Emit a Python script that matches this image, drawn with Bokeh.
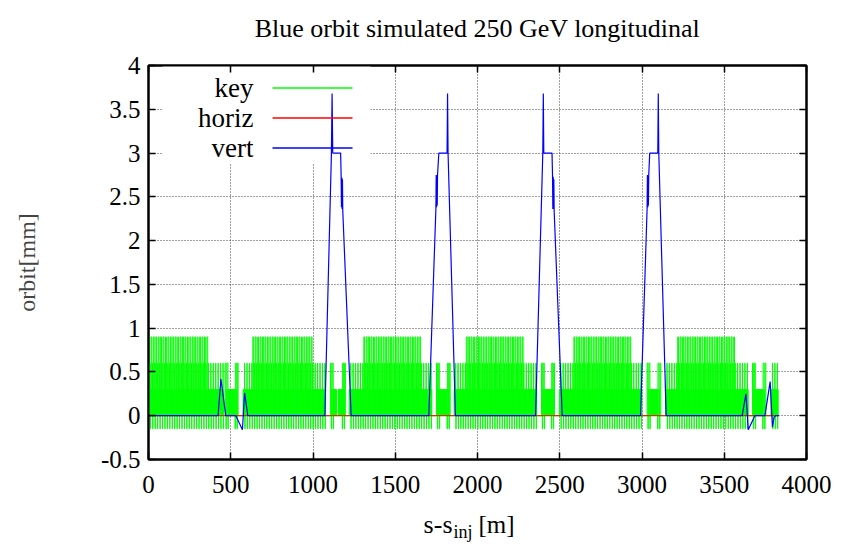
from bokeh.plotting import figure
from bokeh.layouts import column
from bokeh.models import (Range1d, LinearAxis, FixedTicker, Label, BoxAnnotation,
                          CustomJSTickFormatter)
from bokeh.embed import file_html
from bokeh.resources import INLINE

FONT = "Liberation Serif"

# ---------------- data ----------------
title_text = "Blue orbit simulated 250 GeV longitudinal"
y_title = "orbit[mm]"
x_title_parts = ["s-s", "inj", "[m]"]
series_names = ["key", "horiz", "vert"]
series_colors = ["#00ff00", "#ff0000", "#0000ff"]

x_ticks = [0, 500, 1000, 1500, 2000, 2500, 3000, 3500, 4000]
x_tick_labels = ["0", "500", "1000", "1500", "2000", "2500", "3000", "3500", "4000"]
y_ticks = [-0.5, 0, 0.5, 1, 1.5, 2, 2.5, 3, 3.5, 4]
y_tick_labels = ["-0.5", "0", "0.5", "1", "1.5", "2", "2.5", "3", "3.5", "4"]

# horizontal orbit (flat)
horiz_s = [0, 3832]
horiz_mm = [0, 0]

# vertical orbit
vert_s = [0, 423, 440, 470, 531, 571, 584, 604,
          1072, 1112, 1116, 1120, 1168, 1171, 1173, 1175, 1177, 1179, 1181, 1232,
          1704, 1747, 1749, 1751, 1753, 1755, 1757, 1765, 1815, 1818, 1821, 1866,
          2353, 2397, 2400, 2403, 2453, 2456, 2458, 2460, 2462, 2464, 2466, 2515,
          2991, 3031, 3033, 3035, 3037, 3039, 3041, 3047, 3096, 3099, 3102, 3147,
          3609, 3632, 3646, 3686, 3747, 3779, 3793, 3803, 3812, 3832]
vert_mm = [0, 0, 0.42, 0, 0, -0.16, 0.26, 0,
           0, 3.0, 3.68, 3.0, 3.0, 2.75, 2.38, 2.72, 2.36, 2.70, 2.34, 0,
           0, 2.36, 2.75, 2.38, 2.74, 2.40, 2.75, 3.0, 3.0, 3.68, 3.0, 0,
           0, 3.0, 3.68, 3.0, 3.0, 2.75, 2.36, 2.73, 2.36, 2.70, 2.34, 0,
           0, 2.36, 2.75, 2.38, 2.74, 2.40, 2.75, 3.0, 3.0, 3.68, 3.0, 0,
           0, 0.25, -0.16, 0, 0, 0.39, -0.13, -0.02, 0, 0]

# lattice key: arcs (quadrupole envelope) and their bending sections [m]
arc_start = [0, 575, 1220, 1858, 2497, 3143, 3784]
arc_end = [450, 1076, 1716, 2359, 2997, 3635, 3828]
bend_start = [5, 632, 1301, 1927, 2582, 3210, 3900]
bend_end = [369, 997, 1654, 2281, 2932, 3560, 3900]
half_cell = 14.8
# elements of one arc half-cell: offset [m], length [m], key level
cell_off = [0.0, 6.5, 8.5, 11.0, 12.6]
cell_len = [5.0, 0.8, 1.1, 0.6, 0.8]
cell_lvl = [0.9, 0.3, 0.6, -0.15, 0.3]
dipole_level_outside_bend = 0.3
# insertion triplets: start of the first, end of the second [m]
trip_a_start = [466, 1106, 1751, 2389, 3031, 3672]
trip_b_end = [545, 1197, 1834, 2468, 3114, 3753]
trip_off = [0.0, 5.0, 7.0, 11.0, 17.0, 19.0, 22.5, 26.0, 29.5, 33.0]
trip_len = [5.0, 2.0, 4.0, 6.0, 2.0, 3.0, 3.0, 3.0, 3.0, 4.0]
trip_lvl = [0.6, -0.15, 0.3, 0.6, -0.15, 0.3, 0.3, 0.3, 0.3, 0.3]
trip_b_lead_off = [0.0, 3.5]
trip_b_lead_len = [3.0, 3.0]
trip_b_span = 44.0

# ---------------- build key outline from the element lists ----------------
elements = []
for a0, a1, b0, b1 in zip(arc_start, arc_end, bend_start, bend_end):
    s = a0
    while s < a1:
        in_bend = b0 <= s <= b1
        for k, (off, ln, lv) in enumerate(zip(cell_off, cell_len, cell_lvl)):
            if k == 0 and not in_bend:
                lv = dipole_level_outside_bend
            elements.append((s + off, ln, lv))
        s += half_cell
for a, b in zip(trip_a_start, trip_b_end):
    for off, ln, lv in zip(trip_off, trip_len, trip_lvl):
        elements.append((a + off, ln, lv))
        elements.append((b - off - ln, ln, lv))
    for off, ln in zip(trip_b_lead_off, trip_b_lead_len):
        elements.append((b - trip_b_span + off, ln, 0.3))
elements.sort()
key_s, key_mm = [], []
for s0, ln, lv in elements:
    key_s += [s0, s0, s0 + ln, s0 + ln]
    key_mm += [0, lv, lv, 0]


def strip(height):
    """Text-only strip whose frame is aligned with the main frame (x = canvas x - 148)."""
    f = figure(width=844, height=height, output_backend="svg", toolbar_location=None,
               x_range=Range1d(0, 844), y_range=Range1d(0, height), min_border=0,
               x_axis_type=None, y_axis_type=None, outline_line_color=None,
               background_fill_color="white", border_fill_color="white")
    return f


# ---------------- title strip ----------------
pt = strip(45)
pt.add_layout(Label(x=329, y=17, x_units="screen", y_units="screen", text=title_text,
                    text_align="center", text_baseline="middle",
                    text_font=FONT, text_font_size="26px", text_color="black"))

# ---------------- main figure ----------------
FRAME_W, FRAME_H = 658, 394
p = figure(width=844, height=464, output_backend="svg", toolbar_location=None,
           x_range=Range1d(0, 4000), y_range=Range1d(-0.5, 4),
           min_border_left=148, min_border_right=38, min_border_top=20, min_border_bottom=50,
           background_fill_color="white", border_fill_color="white",
           outline_line_color="black", outline_line_width=2)
# pixel-space ranges for the hand-placed key samples
p.extra_x_ranges = {"px": Range1d(0, FRAME_W)}
p.extra_y_ranges = {"px": Range1d(0, FRAME_H)}

p.add_layout(LinearAxis(), "above")
p.add_layout(LinearAxis(), "right")

xfmt = CustomJSTickFormatter(args=dict(vals=x_ticks, labels=x_tick_labels),
                             code="const i = vals.indexOf(tick); return i >= 0 ? labels[i] : '';")
yfmt = CustomJSTickFormatter(args=dict(vals=y_ticks, labels=y_tick_labels),
                             code="const i = vals.indexOf(tick); return i >= 0 ? labels[i] : '';")
for ax in p.xaxis:
    ax.ticker = FixedTicker(ticks=x_ticks)
    ax.formatter = xfmt
for ax in p.yaxis:
    ax.ticker = FixedTicker(ticks=y_ticks)
    ax.formatter = yfmt
for ax in p.axis:
    ax.axis_line_color = "black"
    ax.axis_line_width = 2
    ax.major_tick_in = 7
    ax.major_tick_out = 0
    ax.major_tick_line_color = "black"
    ax.major_tick_line_width = 1.5
    ax.minor_tick_line_color = None
    ax.major_label_text_font = FONT
    ax.major_label_text_font_size = "25px"
    ax.major_label_text_color = "black"
for ax in p.above + p.right:
    if isinstance(ax, LinearAxis):
        ax.major_label_text_color = None
        ax.major_label_text_font_size = "1px"
        ax.major_label_standoff = 0

p.below[0].major_label_standoff = 16
p.left[0].major_label_standoff = 8
p.left[0].axis_label = y_title
p.left[0].axis_label_text_font = FONT
p.left[0].axis_label_text_font_size = "24px"
p.left[0].axis_label_text_font_style = "normal"
p.left[0].axis_label_standoff = 58

for g in p.xgrid + p.ygrid:
    g.grid_line_color = "black"
    g.grid_line_alpha = 0.75
    g.grid_line_dash = "1 2"
    g.grid_line_width = 1
p.xgrid.ticker = FixedTicker(ticks=x_ticks)
p.ygrid.ticker = FixedTicker(ticks=y_ticks)

# key background (hides grid behind the legend, like gnuplot)
p.add_layout(BoxAnnotation(left=14, right=222, bottom=296, top=394,
                           left_units="screen", right_units="screen",
                           bottom_units="screen", top_units="screen",
                           fill_color="white", fill_alpha=1, line_color=None,
                           level="underlay"))

p.line(key_s, key_mm, line_color=series_colors[0], line_width=1)
p.line(horiz_s, horiz_mm, line_color=series_colors[1], line_width=1)
p.line(vert_s, vert_mm, line_color=series_colors[2], line_width=1.2)

# gnuplot-style key: label right-aligned, sample line to the right
row_y = [371.5, 341.5, 311.5]
for name, yy in zip(series_names, row_y):
    p.add_layout(Label(x=105, y=yy, x_units="screen", y_units="screen", text=name,
                       text_align="right", text_baseline="middle",
                       text_font=FONT, text_font_size="27px", text_color="black"))
p.segment(x0=[124] * 3, y0=row_y, x1=[204] * 3, y1=row_y, line_color=series_colors,
          line_width=1.5, x_range_name="px", y_range_name="px")

# ---------------- x axis title strip (with subscript) ----------------
px = strip(45)
px.add_layout(Label(x=304, y=30, x_units="screen", y_units="screen", text=x_title_parts[0],
                    text_align="right", text_baseline="alphabetic",
                    text_font=FONT, text_font_size="26px", text_color="black"))
px.add_layout(Label(x=305, y=23, x_units="screen", y_units="screen", text=x_title_parts[1],
                    text_align="left", text_baseline="alphabetic",
                    text_font=FONT, text_font_size="18px", text_color="black"))
px.add_layout(Label(x=330, y=30, x_units="screen", y_units="screen", text=x_title_parts[2],
                    text_align="left", text_baseline="alphabetic",
                    text_font=FONT, text_font_size="25px", text_color="black"))

layout = column(pt, p, px, spacing=0)
open("out.html", "w").write(file_html(layout, INLINE))
